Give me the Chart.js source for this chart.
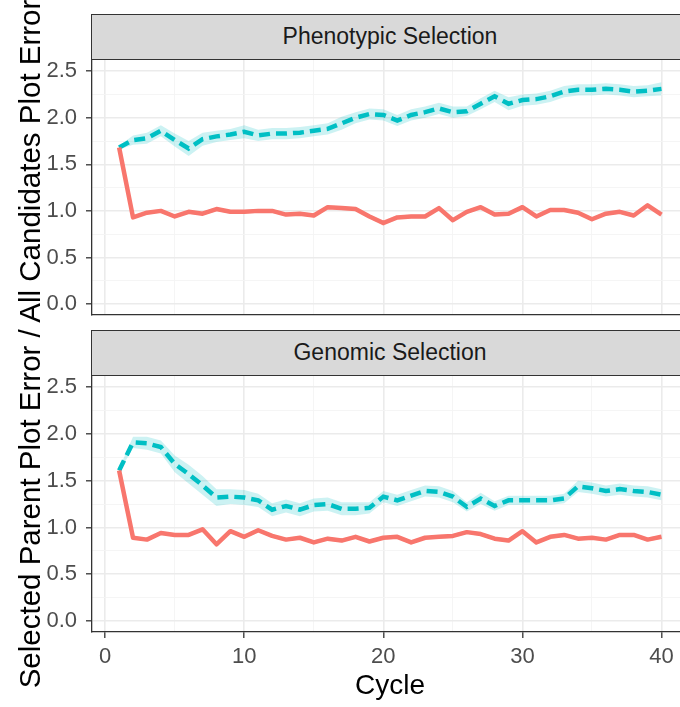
<!DOCTYPE html>
<html>
<head>
<meta charset="utf-8">
<script src="https://cdn.jsdelivr.net/npm/chart.js@4.4.1/dist/chart.umd.min.js"></script>
<style>
  html, body { margin: 0; padding: 0; background: #fff; }
  body { width: 680px; height: 707px; overflow: hidden; position: relative; font-family: "Liberation Sans", Arial, sans-serif; }
  canvas { position: absolute; left: 0; }
  .strip { position: absolute; left: 91px; width: 598px; height: 46px; box-sizing: border-box; background: #D9D9D9; border: 1.5px solid #333; color: #1A1A1A; font-size: 23px; line-height: 43px; text-align: center; }
  #ytitle { position: absolute; width: 800px; left: -370px; top: 327px; height: 34px; line-height: 34px; font-size: 29.5px; text-align: center; transform: rotate(-90deg); white-space: nowrap; color: #000; }
  #xtitle { position: absolute; width: 300px; left: 240px; top: 669px; height: 32px; line-height: 32px; font-size: 28px; text-align: center; color: #000; }
</style>
</head>
<body>
<div class="strip" style="top:14px">Phenotypic Selection</div>
<div class="strip" style="top:330px">Genomic Selection</div>
<canvas id="phenoChart" width="680" height="280" style="top:40px"></canvas>
<canvas id="genoChart" width="680" height="351" style="top:356px"></canvas>
<div id="ytitle">Selected Parent Plot Error / All Candidates Plot Error</div>
<div id="xtitle">Cycle</div>
<script>
const cycles = [1, 2, 3, 4, 5, 6, 7, 8, 9, 10, 11, 12, 13, 14, 15, 16, 17, 18, 19, 20,
  21, 22, 23, 24, 25, 26, 27, 28, 29, 30, 31, 32, 33, 34, 35, 36, 37, 38, 39, 40];

// Phenotypic selection panel
const phenoSolid = [1.68, 0.93, 0.98, 1.00, 0.94, 0.99, 0.97, 1.02, 0.99, 0.99, 1.00, 1.00, 0.96, 0.97, 0.95, 1.04, 1.03, 1.02, 0.94, 0.87,
  0.93, 0.94, 0.94, 1.03, 0.90, 0.99, 1.04, 0.96, 0.97, 1.04, 0.94, 1.01, 1.01, 0.98, 0.91, 0.97, 0.99, 0.95, 1.06, 0.96];
const phenoSolidSe = [0.01, 0.02, 0.02, 0.02, 0.02, 0.02, 0.02, 0.02, 0.02, 0.02, 0.02, 0.02, 0.02, 0.02, 0.02, 0.02, 0.02, 0.02, 0.02, 0.03,
  0.02, 0.02, 0.02, 0.02, 0.02, 0.02, 0.02, 0.02, 0.02, 0.02, 0.02, 0.02, 0.02, 0.02, 0.02, 0.02, 0.02, 0.02, 0.02, 0.02];
const phenoDashed = [1.68, 1.76, 1.78, 1.86, 1.76, 1.67, 1.77, 1.80, 1.82, 1.85, 1.81, 1.83, 1.83, 1.84, 1.86, 1.88, 1.94, 2.00, 2.04, 2.03,
  1.97, 2.03, 2.06, 2.10, 2.06, 2.07, 2.15, 2.23, 2.15, 2.19, 2.20, 2.23, 2.28, 2.30, 2.30, 2.31, 2.30, 2.28, 2.29, 2.31];
const phenoDashedSe = [0.02, 0.05, 0.06, 0.06, 0.07, 0.08, 0.07, 0.06, 0.06, 0.07, 0.06, 0.06, 0.06, 0.06, 0.06, 0.06, 0.07, 0.06, 0.06, 0.06,
  0.06, 0.06, 0.06, 0.06, 0.06, 0.05, 0.06, 0.06, 0.07, 0.06, 0.06, 0.06, 0.06, 0.06, 0.06, 0.06, 0.06, 0.06, 0.06, 0.07];

// Genomic selection panel
const genoSolid = [1.61, 0.89, 0.87, 0.94, 0.92, 0.92, 0.98, 0.82, 0.96, 0.90, 0.97, 0.91, 0.87, 0.89, 0.84, 0.88, 0.86, 0.90, 0.85, 0.89,
  0.90, 0.84, 0.89, 0.90, 0.91, 0.95, 0.93, 0.88, 0.86, 0.96, 0.84, 0.90, 0.92, 0.88, 0.89, 0.87, 0.92, 0.92, 0.87, 0.90];
const genoSolidSe = [0.01, 0.02, 0.02, 0.02, 0.02, 0.02, 0.02, 0.02, 0.02, 0.02, 0.02, 0.02, 0.02, 0.02, 0.02, 0.02, 0.02, 0.02, 0.02, 0.02,
  0.02, 0.02, 0.02, 0.02, 0.02, 0.02, 0.02, 0.02, 0.02, 0.02, 0.02, 0.02, 0.02, 0.02, 0.02, 0.02, 0.02, 0.02, 0.02, 0.02];
const genoDashed = [1.61, 1.91, 1.90, 1.86, 1.68, 1.57, 1.45, 1.32, 1.33, 1.32, 1.29, 1.19, 1.23, 1.19, 1.24, 1.25, 1.20, 1.20, 1.21, 1.33,
  1.29, 1.34, 1.39, 1.38, 1.33, 1.22, 1.31, 1.23, 1.29, 1.29, 1.29, 1.29, 1.31, 1.44, 1.42, 1.39, 1.41, 1.39, 1.38, 1.35];
const genoDashedSe = [0.02, 0.06, 0.07, 0.07, 0.09, 0.10, 0.10, 0.09, 0.08, 0.08, 0.07, 0.07, 0.07, 0.07, 0.07, 0.07, 0.07, 0.07, 0.06, 0.06,
  0.06, 0.06, 0.06, 0.06, 0.06, 0.05, 0.06, 0.05, 0.05, 0.05, 0.05, 0.05, 0.05, 0.06, 0.06, 0.06, 0.06, 0.06, 0.06, 0.06];

// ticks (grid at every value, labels only on the major ones)
const xGridValues = [0, 5, 10, 15, 20, 25, 30, 35, 40];
const xLabelValues = [0, 10, 20, 30, 40];
const yGridValues = [0, 0.25, 0.5, 0.75, 1, 1.25, 1.5, 1.75, 2, 2.25, 2.5];
const yLabelValues = [0, 0.5, 1, 1.5, 2, 2.5];

const RED = '#F8766D';
const CYAN = '#00BFC4';
const FONT = '"Liberation Sans", Arial, sans-serif';

function points(values, se, sign) {
    return cycles.map((c, i) => ({ x: c, y: values[i] + sign * (se ? se[i] : 0) }));
}

function isMajor(list, v) {
    return list.some(m => Math.abs(m - v) < 1e-6);
}

function makePanel(id, solid, solidSe, dashed, dashedSe, showX) {
    const datasets = [
        { data: points(solid, null, 0), borderColor: RED, borderWidth: 4.5, borderJoinStyle: 'round', fill: false },
        { data: points(dashed, null, 0), borderColor: CYAN, borderWidth: 4.5, borderDash: [11, 6], fill: false },
        { data: points(dashed, dashedSe, 1), borderWidth: 0, borderColor: 'rgba(0,0,0,0)', backgroundColor: 'rgba(0,191,196,0.2)', fill: '+1' },
        { data: points(dashed, dashedSe, -1), borderWidth: 0, borderColor: 'rgba(0,0,0,0)', fill: false },
        { data: points(solid, solidSe, 1), borderWidth: 0, borderColor: 'rgba(0,0,0,0)', backgroundColor: 'rgba(248,118,109,0.25)', fill: '+1' },
        { data: points(solid, solidSe, -1), borderWidth: 0, borderColor: 'rgba(0,0,0,0)', fill: false }
    ];
    datasets.forEach(d => { d.pointRadius = 0; d.tension = 0; });

    return new Chart(document.getElementById(id), {
        type: 'line',
        data: { datasets: datasets },
        options: {
            responsive: false,
            animation: false,
            devicePixelRatio: 1,
            layout: { padding: { top: 20, bottom: showX ? 10 : 5, left: 0, right: 0 } },
            plugins: { legend: { display: false }, tooltip: { enabled: false } },
            scales: {
                x: {
                    type: 'linear',
                    min: -0.95,
                    max: 41.33,
                    afterBuildTicks: s => { s.ticks = xGridValues.map(v => ({ value: v })); },
                    afterFit: s => { s.height = showX ? 65 : 0; s.paddingLeft = 0; s.paddingRight = 0; },
                    grid: {
                        color: c => (c.tick && isMajor(xLabelValues, c.tick.value)) ? '#EBEBEB' : '#F4F4F4',
                        lineWidth: c => (c.tick && isMajor(xLabelValues, c.tick.value)) ? 1.6 : 0.9,
                        drawTicks: showX,
                        tickLength: 6,
                        tickWidth: 1.3,
                        tickColor: c => (c.tick && isMajor(xLabelValues, c.tick.value)) ? '#333333' : 'rgba(0,0,0,0)'
                    },
                    border: { display: true, color: '#333333', width: 1.3 },
                    ticks: {
                        display: showX,
                        autoSkip: false,
                        maxRotation: 0,
                        padding: 6,
                        color: '#4D4D4D',
                        font: { size: 22, family: FONT },
                        callback: v => isMajor(xLabelValues, v) ? String(v) : ''
                    }
                },
                y: {
                    type: 'linear',
                    min: -0.118,
                    max: 2.62,
                    afterBuildTicks: s => { s.ticks = yGridValues.map(v => ({ value: v })); },
                    afterFit: s => { s.width = 92; s.paddingTop = 0; s.paddingBottom = 0; },
                    grid: {
                        color: c => (c.tick && isMajor(yLabelValues, c.tick.value)) ? '#EBEBEB' : '#F4F4F4',
                        lineWidth: c => (c.tick && isMajor(yLabelValues, c.tick.value)) ? 1.6 : 0.9,
                        tickLength: 6,
                        tickWidth: 1.3,
                        tickColor: c => (c.tick && isMajor(yLabelValues, c.tick.value)) ? '#333333' : 'rgba(0,0,0,0)'
                    },
                    border: { display: true, color: '#333333', width: 1.3 },
                    ticks: {
                        autoSkip: false,
                        padding: 9,
                        color: '#4D4D4D',
                        font: { size: 22, family: FONT },
                        callback: v => isMajor(yLabelValues, v) ? v.toFixed(1) : ''
                    }
                }
            }
        }
    });
}

makePanel('phenoChart', phenoSolid, phenoSolidSe, phenoDashed, phenoDashedSe, false);
makePanel('genoChart', genoSolid, genoSolidSe, genoDashed, genoDashedSe, true);
</script>
</body>
</html>
